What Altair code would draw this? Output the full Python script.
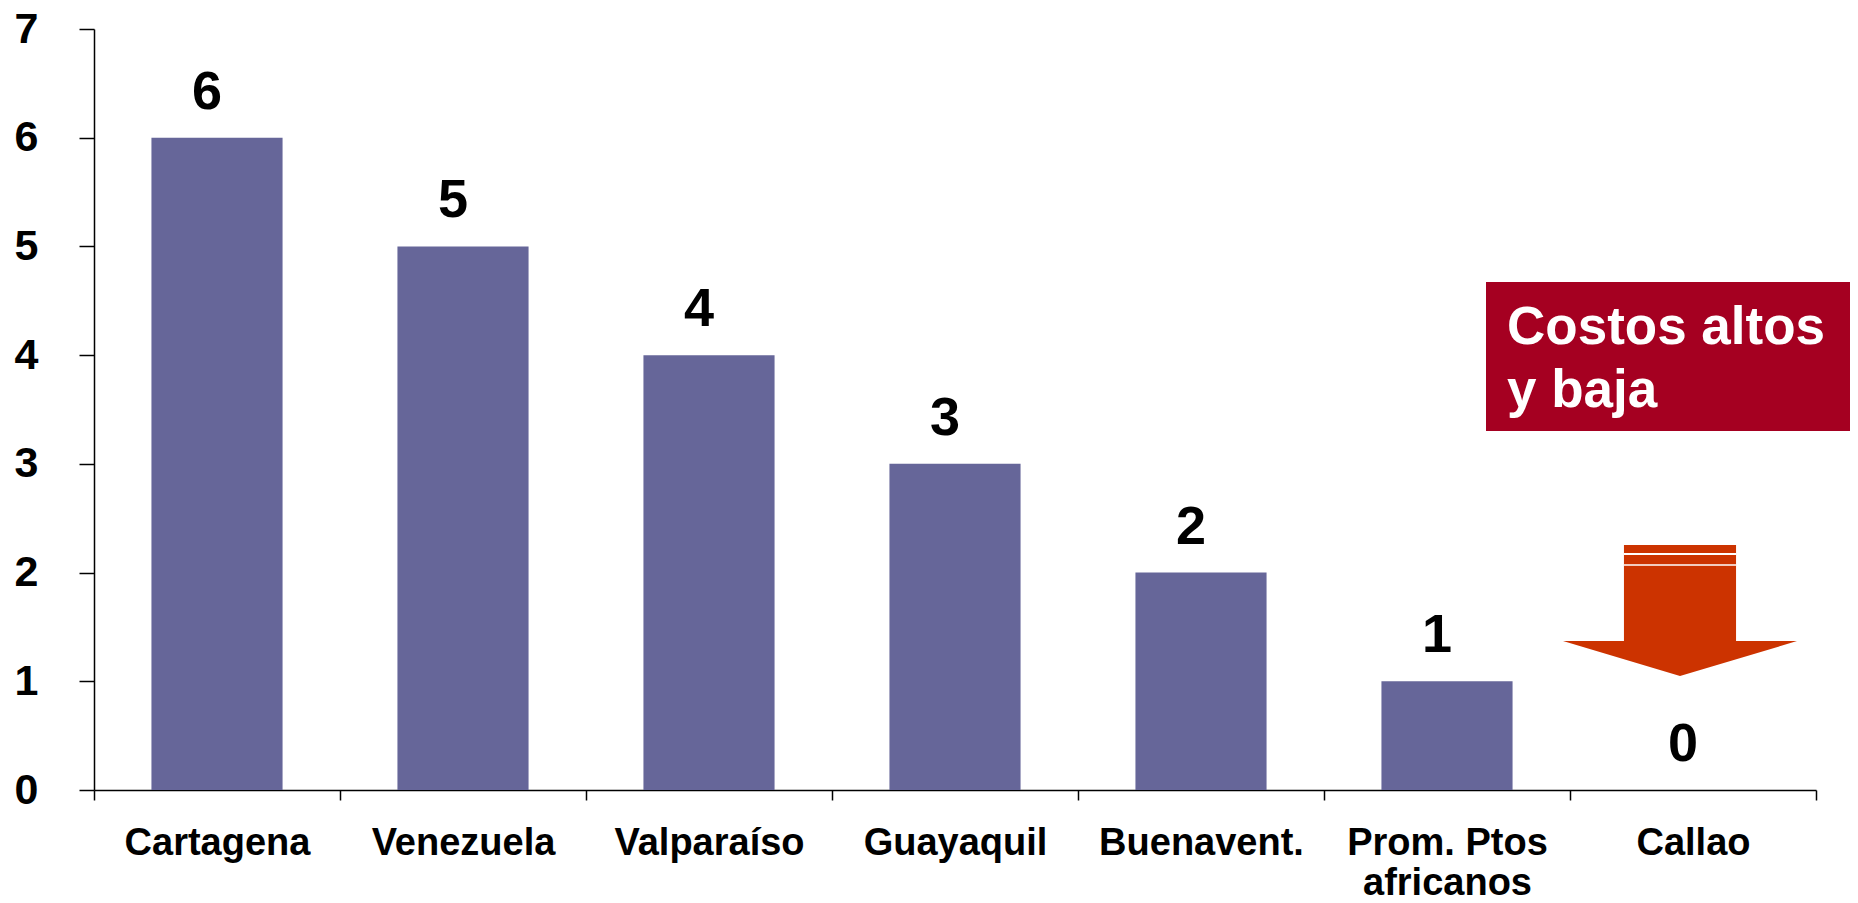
import altair as alt
import pandas as pd

categories = ["Cartagena", "Venezuela", "Valparaíso", "Guayaquil", "Buenavent.",
              "Prom. Ptos africanos", "Callao"]
values = [6, 5, 4, 3, 2, 1, 0]
y_ticks = [0, 1, 2, 3, 4, 5, 6, 7]
box_lines = ["Costos altos", "y baja"]

FONT = "Liberation Sans"
BAR = "#666699"

df = pd.DataFrame({"cat": categories, "val": values})

x_enc = alt.X(
    "cat:N", sort=categories, title=None,
    scale=alt.Scale(paddingInner=0, paddingOuter=0),
    axis=alt.Axis(
        labelAngle=0, labelFont=FONT, labelFontSize=38, labelFontWeight="bold",
        labelColor="black", labelPadding=24, labelLineHeight=40, labelLimit=0,
        labelExpr="datum.label == 'Prom. Ptos africanos' ? ['Prom. Ptos', 'africanos'] : datum.label",
        tickBand="extent", tickSize=10, tickColor="black", tickWidth=1.5,
        domainColor="black", domainWidth=1.5, grid=False,
    ),
)
y_enc = alt.Y(
    "val:Q", title=None,
    scale=alt.Scale(domain=[0, 7], nice=False),
    axis=alt.Axis(
        values=y_ticks, format="d", labelFont=FONT, labelFontSize=43, labelFontWeight="bold",
        labelColor="black", labelPadding=41, tickSize=15, tickColor="black",
        tickWidth=1.5, domainColor="black", domainWidth=1.5, grid=False,
    ),
)

base = alt.Chart(df)

bars = base.mark_bar(color=BAR, width=alt.RelativeBandSize(0.533)).encode(x=x_enc, y=y_enc)

labels = base.mark_text(
    font=FONT, fontSize=54, fontWeight="bold", color="black",
    baseline="alphabetic", dy=-29, dx=-10,
).encode(x=alt.X("cat:N", sort=categories), y=alt.Y("val:Q"), text="val:Q")

# Annotation: red box with text
box = alt.Chart(pd.DataFrame({"a": [0]})).mark_rect(color="#A50021").encode(
    x=alt.value(1392), x2=alt.value(1758),
    y=alt.datum(4.673), y2=alt.datum(3.302),
)
box_text = alt.Chart(pd.DataFrame({"a": [0]})).mark_text(
    text=box_lines, font=FONT, fontSize=53, fontWeight="bold", color="white",
    align="left", baseline="alphabetic", lineHeight=63,
).encode(x=alt.value(1413), y=alt.datum(4.103))

# Annotation: downward arrow
arrow_path = ("M -0.479 -0.56 L 0.479 -0.56 L 0.479 0.261 L 1 0.261 "
              "L 0 0.56 L -1 0.261 L -0.479 0.261 Z")
arrow = alt.Chart(pd.DataFrame({"a": [0]})).mark_point(
    shape=arrow_path, filled=True, color="#CC3300", opacity=1, size=234 * 234,
    strokeWidth=0,
).encode(x=alt.value(1586), y=alt.datum(1.651))

stripe1 = alt.Chart(pd.DataFrame({"a": [0]})).mark_rule(color="white", strokeWidth=2).encode(
    x=alt.value(1530), x2=alt.value(1642), y=alt.datum(2.17)
)
stripe2 = alt.Chart(pd.DataFrame({"a": [0]})).mark_rule(color="white", strokeWidth=1.5).encode(
    x=alt.value(1530), x2=alt.value(1642), y=alt.datum(2.07)
)

chart = alt.layer(bars, labels, box, box_text, arrow, stripe1, stripe2).properties(
    width=1722, height=761,
    autosize=alt.AutoSizeParams(type="none"),
    padding={"left": 86, "top": 21, "right": 34, "bottom": 105},
    background="white",
).configure_view(strokeWidth=0)

chart.save("out.html", embed_options={"renderer": "svg", "actions": False})
